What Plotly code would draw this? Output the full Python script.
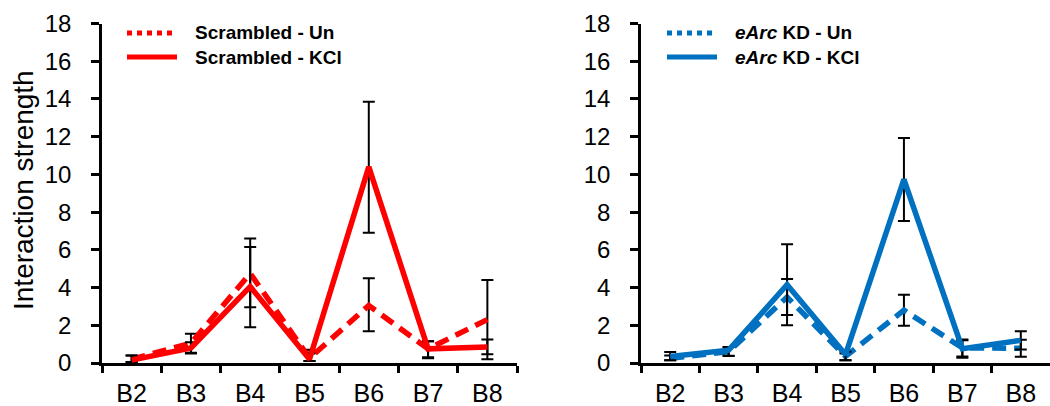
import plotly.graph_objects as go

# ---------------- data ----------------
categories = ["B2", "B3", "B4", "B5", "B6", "B7", "B8"]

scr_un = [0.2, 1.05, 4.75, 0.25, 3.05, 0.75, 2.3]
scr_un_err_plus = [0.2, 0.5, 1.85, 0.45, 1.45, 0.4, 2.1]
scr_un_err_minus = [0.15, 0.5, 1.8, 0.15, 1.37, 0.45, 2.1]

scr_kcl = [0.15, 0.8, 4.05, 0.2, 10.4, 0.75, 0.85]
scr_kcl_err_plus = [0.25, 0.3, 2.1, 0.3, 3.45, 0.4, 0.4]
scr_kcl_err_minus = [0.1, 0.3, 2.15, 0.1, 3.5, 0.5, 0.38]

arc_un = [0.25, 0.6, 3.5, 0.35, 2.8, 0.8, 0.78]
arc_un_err_plus = [0.15, 0.25, 0.95, 0.15, 0.82, 0.4, 0.45]
arc_un_err_minus = [0.1, 0.23, 0.95, 0.2, 0.82, 0.45, 0.45]

arc_kcl = [0.35, 0.68, 4.15, 0.45, 9.73, 0.76, 1.2]
arc_kcl_err_plus = [0.23, 0.17, 2.15, 0.15, 2.2, 0.48, 0.48]
arc_kcl_err_minus = [0.2, 0.3, 2.15, 0.3, 2.2, 0.48, 0.48]

y_ticks = [0, 2, 4, 6, 8, 10, 12, 14, 16, 18]
y_title = "Interaction strength"
legend_left = ["<b>Scrambled - Un</b>", "<b>Scrambled - KCl</b>"]
legend_right = ["<b><i>eArc</i> KD - Un</b>", "<b><i>eArc</i> KD - KCl</b>"]

RED = "#FF0000"
BLUE = "#0070C0"
FONT = "Liberation Sans, Arial, sans-serif"
W, H = 1050, 406


def X(px):
    return px / W


def Y(py):
    return 1 - py / H


fig = go.Figure()


def add_series(xa, ya, vals, ep, em, color, dash):
    fig.add_trace(go.Scatter(
        x=categories, y=vals, xaxis=xa, yaxis=ya, mode="lines",
        line=dict(color=color, width=5.5, dash=dash),
        error_y=dict(type="data", array=ep, arrayminus=em, color="black",
                     thickness=2, width=6, visible=True),
        showlegend=False, hoverinfo="skip"))


add_series("x", "y", scr_un, scr_un_err_plus, scr_un_err_minus, RED, "14px,8px")
add_series("x", "y", scr_kcl, scr_kcl_err_plus, scr_kcl_err_minus, RED, "solid")
add_series("x2", "y2", arc_un, arc_un_err_plus, arc_un_err_minus, BLUE, "14px,8px")
add_series("x2", "y2", arc_kcl, arc_kcl_err_plus, arc_kcl_err_minus, BLUE, "solid")

ydom = [Y(363), Y(23.5)]
xaxis_common = dict(
    type="category", tickson="boundaries", ticks="outside", ticklen=7,
    tickwidth=2.5, tickcolor="black", showline=True, linewidth=2.5,
    linecolor="black", showgrid=False, zeroline=False, automargin=False,
    tickfont=dict(family=FONT, size=25, color="black"), ticklabelstandoff=6,
    range=[-0.5, 6.5], fixedrange=True)
yaxis_common = dict(
    range=[0, 18], tickvals=y_ticks, ticks="outside", ticklen=8,
    tickwidth=2.5, tickcolor="black", showline=True, linewidth=2.5,
    linecolor="black", showgrid=False, zeroline=False, automargin=False,
    tickfont=dict(family=FONT, size=24, color="black"), ticklabelstandoff=15,
    domain=ydom, fixedrange=True)

fig.update_layout(
    width=W, height=H, margin=dict(l=0, r=0, t=0, b=0),
    template="none", paper_bgcolor="white", plot_bgcolor="white",
    showlegend=False,
    xaxis=dict(xaxis_common, domain=[X(102), X(517)], anchor="y"),
    yaxis=dict(yaxis_common, anchor="x"),
    xaxis2=dict(xaxis_common, domain=[X(641), X(1050)], anchor="y2"),
    yaxis2=dict(yaxis_common, anchor="x2"),
)

# y-axis title
fig.add_annotation(x=X(23), y=Y(190), xref="paper", yref="paper",
                   text=y_title, textangle=-90, showarrow=False,
                   xanchor="center", yanchor="middle",
                   font=dict(family=FONT, size=28, color="black"))

# legends (drawn as key samples + labels)
def legend(x0, x1, xt, labels, color):
    for i, (py, dash) in enumerate([(33, "dot"), (57, "solid")]):
        fig.add_shape(type="line", xref="paper", yref="paper",
                      x0=X(x0), x1=X(x1), y0=Y(py), y1=Y(py),
                      line=dict(color=color, width=5, dash=dash))
        fig.add_annotation(x=X(xt), y=Y(py), xref="paper", yref="paper",
                           text=labels[i], showarrow=False, xanchor="left",
                           yanchor="middle",
                           font=dict(family=FONT, size=19, color="black"))


legend(127, 177, 193, legend_left, RED)
legend(667, 717, 733, legend_right, BLUE)

fig.write_html("out.html")
